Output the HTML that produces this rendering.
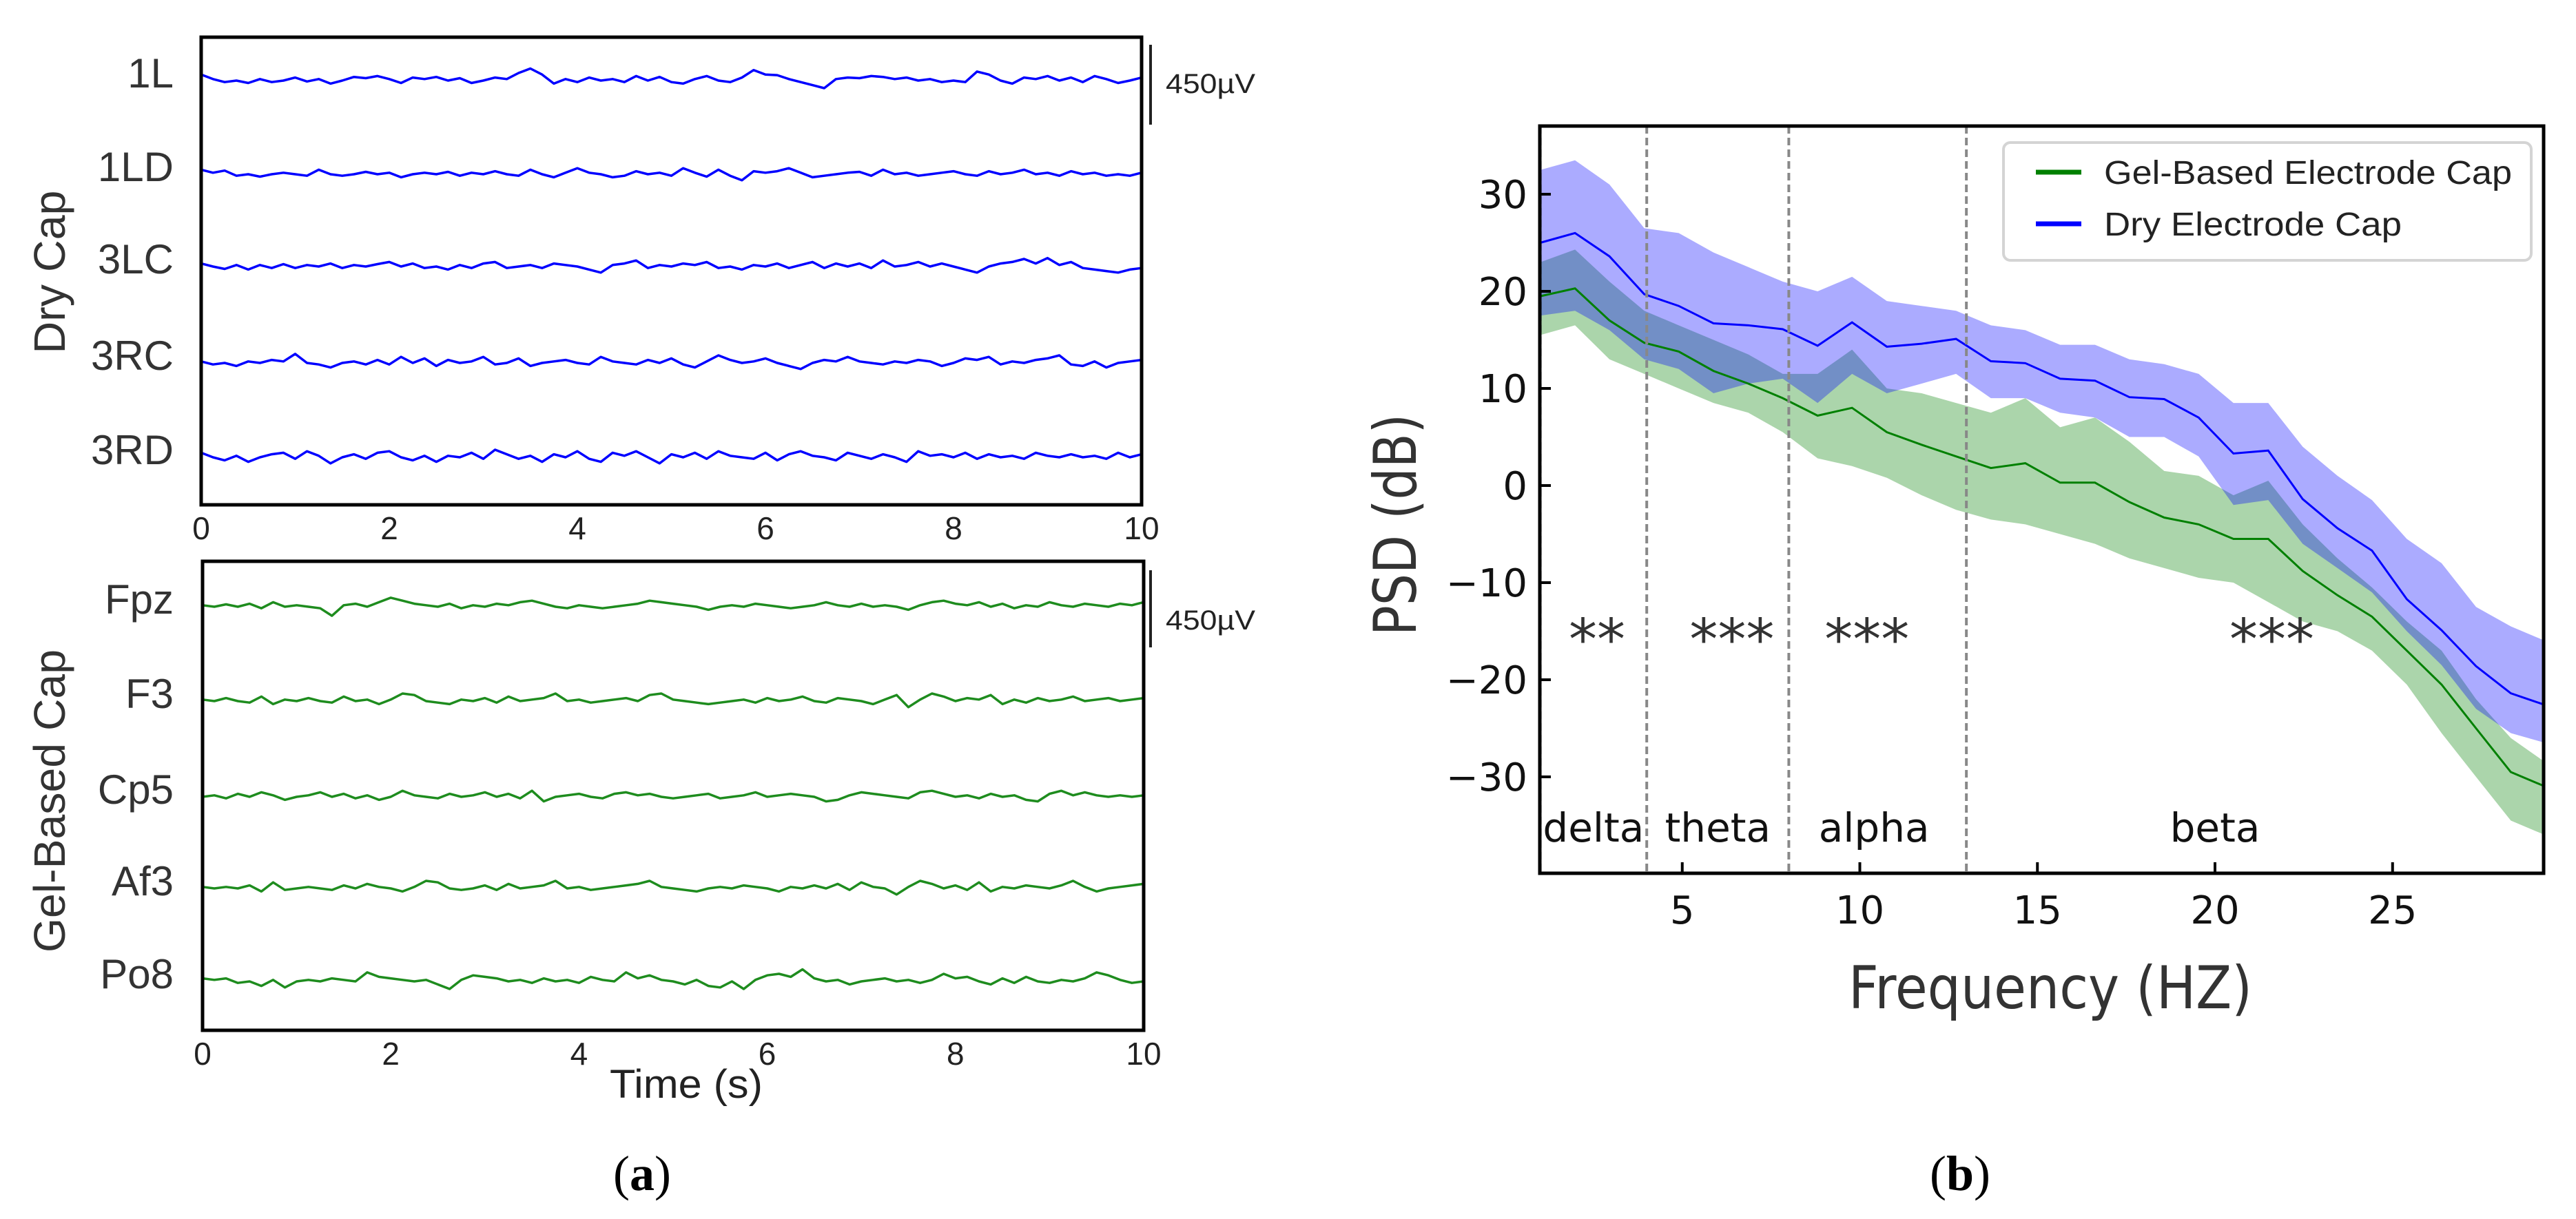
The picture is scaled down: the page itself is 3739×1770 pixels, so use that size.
<!DOCTYPE html>
<html><head><meta charset="utf-8"><style>html,body{margin:0;padding:0;background:#fff}svg{display:block}</style></head>
<body>
<svg id="fig" width="3739" height="1770" viewBox="0 0 3739 1770" xmlns="http://www.w3.org/2000/svg">
<rect width="3739" height="1770" fill="#fff"/>
<g id="left"></g>
<g id="right"></g>
</svg>
<script>
// ---------- Panel (a) EEG data (µV, sampled evenly over 0..10 s) ----------
const dryChannels = ["1L","1LD","3LC","3RC","3RD"];
const gelChannels = ["Fpz","F3","Cp5","Af3","Po8"];
const dry1L  = [20,5,-5,0,-8,5,-5,0,10,-3,5,-10,0,12,8,15,5,-8,10,5,12,0,8,-8,0,10,5,25,40,20,-10,5,-5,10,0,5,-5,15,0,12,-5,-10,5,15,0,-5,10,35,20,18,5,-5,-15,-25,5,10,8,15,12,5,10,0,5,-5,0,-5,30,20,0,-10,10,5,15,0,10,-5,15,5,-8,0,10];
const dry1LD = [15,5,12,-5,0,-8,0,5,0,-5,15,0,-5,0,8,0,5,-10,0,5,0,8,-5,5,0,10,0,-5,15,0,-10,5,20,5,0,-10,-5,10,0,5,-5,20,5,-8,15,-5,-20,10,5,10,20,5,-10,-5,0,5,8,-5,15,0,5,-5,0,5,10,0,-5,10,0,5,15,0,5,-5,10,0,5,-5,0,-5,5];
const dry3LC = [10,0,-8,5,-10,5,-5,8,-5,5,0,10,-5,5,0,8,15,0,10,-5,0,-10,5,-5,10,15,-5,0,5,-5,10,5,0,-10,-20,5,10,20,-5,5,0,10,5,15,-5,0,-10,5,0,10,-5,5,15,-5,10,0,10,-5,20,0,5,15,0,10,0,-10,-20,0,10,15,25,10,28,5,15,-5,-10,-15,-20,-10,-5];
const dry3RC = [5,-5,0,-10,5,0,10,5,30,0,-5,-15,0,5,-5,10,-5,20,0,15,-10,10,0,5,20,-5,0,15,-10,0,5,10,0,-5,20,5,0,-5,10,0,15,-5,-15,5,25,10,0,5,15,0,-10,-20,0,10,5,20,5,0,-5,5,0,10,5,-10,0,15,10,20,-5,5,0,10,15,25,-5,-10,5,-15,0,5,10];
const dry3RD = [15,0,-10,5,-15,0,10,15,-5,20,5,-20,0,10,-5,15,20,0,-10,5,-15,5,0,15,-5,25,10,-5,5,-15,10,0,20,-5,-15,15,5,20,0,-20,10,0,15,-5,20,5,0,-5,15,-10,10,20,5,0,-10,15,5,-5,10,0,-15,20,5,10,0,15,-5,10,0,5,-5,15,5,0,10,0,5,-5,15,0,10];
const gelFpz = [5,0,8,0,10,-5,15,0,5,0,-5,-30,5,10,0,15,30,20,10,5,0,10,-5,5,0,10,5,15,20,10,0,-5,5,0,-5,0,5,10,20,15,10,5,0,-10,0,5,0,10,5,0,-5,0,5,15,5,0,10,0,5,0,-10,5,15,20,10,5,15,0,10,-5,5,0,15,5,0,10,5,0,10,5,15];
const gelF3  = [5,0,10,0,-5,15,-10,5,0,10,0,-5,15,0,5,-10,5,25,20,0,-5,-10,5,0,10,-5,15,0,5,10,25,0,5,-5,0,5,10,0,20,25,5,0,-5,-10,-5,0,5,-5,10,0,5,15,0,-5,10,5,0,-10,5,20,-20,5,25,15,0,10,5,20,-10,5,-5,10,0,5,15,0,5,10,0,5,10];
const gelCp5 = [0,5,-5,10,0,15,5,-10,0,5,15,0,10,-5,5,-10,0,20,5,0,-5,10,0,5,15,0,10,-5,20,-15,0,5,10,0,-5,10,15,5,10,0,-5,0,5,10,-5,0,5,15,0,5,10,5,0,-15,-10,5,15,10,5,0,-5,15,20,10,0,5,-5,10,0,5,-10,-15,10,20,5,15,5,0,5,0,5];
const gelAf3 = [5,0,5,0,10,-10,20,-5,0,5,0,-5,10,0,15,5,0,-10,5,25,20,0,-5,0,10,-5,15,0,5,10,25,0,5,-5,0,5,10,15,25,5,0,-5,-10,0,5,0,10,5,0,-10,5,0,10,0,15,-5,20,5,0,-20,5,25,15,0,10,-5,20,-10,5,0,10,5,0,10,25,5,-10,0,5,10,15];
const gelPo8 = [10,5,10,-5,0,-15,5,-20,0,5,0,10,5,0,30,15,10,5,0,5,-10,-25,5,20,15,10,0,5,-5,10,0,5,-5,15,5,0,30,10,20,5,0,-10,5,-15,-20,0,-25,5,20,25,15,40,10,0,5,-10,0,5,10,0,5,-5,5,25,10,15,0,-10,10,-5,15,0,-5,5,0,10,30,20,5,-5,0];
const dryData = [dry1L,dry1LD,dry3LC,dry3RC,dry3RD];
const gelData = [gelFpz,gelF3,gelCp5,gelAf3,gelPo8];
const timeTicks = [0,2,4,6,8,10];

// ---------- Panel (b) PSD data ----------
const freqs = [1,1.98,2.95,3.93,4.9,5.88,6.86,7.83,8.81,9.78,10.76,11.74,12.71,13.69,14.66,15.64,16.62,17.59,18.57,19.54,20.52,21.5,22.47,23.45,24.42,25.4,26.38,27.35,28.33,29.3];
const dryMean  = [25,26,23.6,19.7,18.5,16.7,16.5,16.1,14.4,16.8,14.3,14.6,15.1,12.8,12.6,11,10.8,9.1,8.9,7,3.3,3.6,-1.4,-4.4,-6.7,-11.7,-14.9,-18.6,-21.4,-22.6];
const dryUpper = [32.5,33.5,31,26.5,26,24,22.5,21,20,21.5,19,18.5,18,16.5,16,14.5,14.5,13,12.5,11.5,8.5,8.5,4,1,-1.5,-5.5,-8,-12.5,-14.5,-16];
const dryLower = [17.5,18,16,13,12,9.5,10.5,11,8.5,11.5,9.5,10.5,11.5,9,9,7.5,7,5,5,3,-2,-1.5,-6,-8.5,-11,-15,-18.5,-23,-25.5,-26.5];
const gelMean  = [19.5,20.3,17,14.7,13.8,11.8,10.5,9,7.2,8,5.5,4.2,3,1.8,2.3,0.3,0.3,-1.7,-3.3,-4,-5.5,-5.5,-8.8,-11.3,-13.5,-17,-20.5,-25,-29.5,-31];
const gelUpper = [23,24.3,21,18,16.5,15,13.5,11.5,11.5,14,10,9.5,8.5,7.5,9,6,7,4.5,1.5,1,-1,0.5,-4,-7.5,-10.5,-14,-17,-22,-26,-28.5];
const gelLower = [15.5,16.5,13,11.5,10,8.5,7.5,5.5,2.8,2,0.8,-1,-2.5,-3.5,-4,-5,-6,-7.5,-8.5,-9.5,-10,-12,-14,-15,-17,-20.5,-25.5,-30,-34.5,-36];
const psdYTicks = [30,20,10,0,-10,-20,-30];
const psdXTicks = [5,10,15,20,25];
const bandEdges = [1,4,8,13];
const bandNames = ["delta","theta","alpha","beta"];
const bandCenters = [2.5,6,10.4,20];
const sigMarks = ["**","***","***","***"];
const sigCenters = [2.6,6.4,10.2,21.6];

const NS = "http://www.w3.org/2000/svg";
function mk(tag, attrs, parent, text){
  const e = document.createElementNS(NS, tag);
  for (const k in attrs) e.setAttribute(k, attrs[k]);
  if (text !== undefined) e.textContent = text;
  parent.appendChild(e);
  return e;
}
const L = document.getElementById('left');
const R = document.getElementById('right');
const LF = '"Liberation Sans", "DejaVu Sans", sans-serif';
const DF = '"DejaVu Sans", "Liberation Sans", sans-serif';

// ---------- draw panel (a) ----------
function eegBox(x0, x1, y0, y1, names, data, baselines, color, barY0, barY1, barTextY, boxName){
  const g = mk('g', {}, L);
  
  
  const xs = t => x0 + (x1 - x0) * t / 10;
  const pxPerUv = 1.7 * 116 / 450;
  names.forEach((nm, i) => {
    const vals = data[i];
    const n = vals.length;
    let d = '';
    vals.forEach((v, k) => {
      const t = 10 * k / (n - 1);
      d += (k ? 'L' : 'M') + xs(t).toFixed(1) + ' ' + (baselines[i] - v * pxPerUv).toFixed(1);
    });
    const p = mk('path', {d: d, fill: 'none', stroke: color, 'stroke-width': 3.5, 'stroke-linejoin': 'round'}, g);
    
    
    const lb = mk('text', {x: 252, y: baselines[i] + 10, 'text-anchor': 'end', 'font-family': LF, 'font-size': 60, fill: '#333'}, g, nm);
    
    
  });
  const box = mk('rect', {x: x0, y: y0, width: x1 - x0, height: y1 - y0, fill: 'none', stroke: '#000', 'stroke-width': 5}, g);
  
  
  timeTicks.forEach(t => {
    const tl = mk('text', {x: xs(t), y: y1 + 50, 'text-anchor': 'middle', 'font-family': LF, 'font-size': 46, fill: '#222'}, g, String(t));
    
    
  });
  const sb = mk('line', {x1: 1670, x2: 1670, y1: barY0, y2: barY1, stroke: '#222', 'stroke-width': 4}, g);
  
  
  const st = mk('text', {x: 1692, y: barTextY + 14, 'font-family': LF, 'font-size': 40, fill: '#222', textLength: 130, lengthAdjust: 'spacingAndGlyphs'}, g, '450µV');
  
  
}
eegBox(292, 1657, 54, 733, dryChannels, dryData, [117,253,387,527,664], '#0000ff', 65, 181, 121, 'dry-cap-axes');
eegBox(294, 1660, 815, 1496, gelChannels, gelData, [881,1018,1157,1290,1425], '#1e8c1e', 828, 940, 900, 'gel-cap-axes');

let t1 = mk('text', {x: 0, y: 0, transform: 'translate(94,395) rotate(-90)', 'text-anchor': 'middle', 'font-family': LF, 'font-size': 64, fill: '#333', textLength: 237, lengthAdjust: 'spacingAndGlyphs'}, L, 'Dry Cap');


let t2 = mk('text', {x: 0, y: 0, transform: 'translate(94,1163) rotate(-90)', 'text-anchor': 'middle', 'font-family': LF, 'font-size': 64, fill: '#333', textLength: 440, lengthAdjust: 'spacingAndGlyphs'}, L, 'Gel-Based Cap');


let t3 = mk('text', {x: 996, y: 1594, 'text-anchor': 'middle', 'font-family': LF, 'font-size': 58, fill: '#222', textLength: 222, lengthAdjust: 'spacingAndGlyphs'}, L, 'Time (s)');


let t4 = mk('text', {x: 932, y: 1728, 'text-anchor': 'middle', 'font-family': '"Liberation Serif", serif', 'font-size': 72, fill: '#000'}, L, '');


t4.innerHTML = '(<tspan font-weight="bold">a</tspan>)';

// ---------- draw panel (b) ----------
const AX0 = 2235, AX1 = 3692, AY0 = 183, AY1 = 1268;
const fx = f => 2184 + 51.55 * f;
const fy = v => 705 - 14.1 * v;

function bandPath(up, lo){
  let d = '';
  freqs.forEach((f, i) => { d += (i ? 'L' : 'M') + fx(f).toFixed(1) + ' ' + fy(up[i]).toFixed(1); });
  for (let i = freqs.length - 1; i >= 0; i--) d += 'L' + fx(freqs[i]).toFixed(1) + ' ' + fy(lo[i]).toFixed(1);
  return d + 'Z';
}
function linePath(v){
  let d = '';
  freqs.forEach((f, i) => { d += (i ? 'L' : 'M') + fx(f).toFixed(1) + ' ' + fy(v[i]).toFixed(1); });
  return d;
}
const clip = mk('clipPath', {id: 'axclip'}, R);
mk('rect', {x: AX0, y: AY0, width: AX1 - AX0, height: AY1 - AY0}, clip);
const plot = mk('g', {'clip-path': 'url(#axclip)'}, R);



const gb = mk('path', {d: bandPath(gelUpper, gelLower), fill: '#008000', 'fill-opacity': 0.33}, plot);


const bb = mk('path', {d: bandPath(dryUpper, dryLower), fill: '#0000ff', 'fill-opacity': 0.33}, plot);


const gl = mk('path', {d: linePath(gelMean), fill: 'none', stroke: '#008000', 'stroke-width': 3}, plot);


const bl = mk('path', {d: linePath(dryMean), fill: 'none', stroke: '#0000ff', 'stroke-width': 3}, plot);



bandEdges.forEach((f, i) => {
  const ln = mk('line', {x1: fx(f), x2: fx(f), y1: AY0, y2: AY1, stroke: i === 0 ? '#000' : '#888', 'stroke-width': 4, 'stroke-dasharray': '11 6'}, R);
  
  
});
bandNames.forEach((nm, i) => {
  const tx = mk('text', {x: fx(bandCenters[i]), y: 1222, 'text-anchor': 'middle', 'font-family': DF, 'font-size': 58, fill: '#111'}, R, nm);
  
  
});
sigMarks.forEach((s, i) => {
  const tx = mk('text', {x: fx(sigCenters[i]), y: 957, 'text-anchor': 'middle', 'font-family': DF, 'font-size': 82, fill: '#333'}, R, s);
  
  
});
const frame = mk('rect', {x: AX0, y: AY0, width: AX1 - AX0, height: AY1 - AY0, fill: 'none', stroke: '#000', 'stroke-width': 5}, R);


psdYTicks.forEach(v => {
  const tk = mk('line', {x1: AX0, x2: AX0 + 16, y1: fy(v), y2: fy(v), stroke: '#000', 'stroke-width': 4}, R);
  
  
  const lb = mk('text', {x: 2217, y: fy(v) + 20, 'text-anchor': 'end', 'font-family': DF, 'font-size': 56, fill: '#111'}, R, v < 0 ? '\u2212' + Math.abs(v) : String(v));
  
  
});
psdXTicks.forEach(f => {
  const tk = mk('line', {x1: fx(f), x2: fx(f), y1: AY1, y2: AY1 - 16, stroke: '#000', 'stroke-width': 4}, R);
  
  
  const lb = mk('text', {x: fx(f), y: 1341, 'text-anchor': 'middle', 'font-family': DF, 'font-size': 56, fill: '#111'}, R, String(f));
  
  
});
const yt = mk('text', {x: 0, y: 0, transform: 'translate(2055,762) rotate(-90)', 'text-anchor': 'middle', 'font-family': DF, 'font-size': 86, fill: '#333', textLength: 322, lengthAdjust: 'spacingAndGlyphs'}, R, 'PSD (dB)');


const xt = mk('text', {x: 2976, y: 1464, 'text-anchor': 'middle', 'font-family': DF, 'font-size': 86, fill: '#333', textLength: 586, lengthAdjust: 'spacingAndGlyphs'}, R, 'Frequency (HZ)');



const lg = mk('g', {}, R);


mk('rect', {x: 2908, y: 207, width: 766, height: 171, rx: 10, fill: '#fff', stroke: '#d4d4d4', 'stroke-width': 4}, lg);
const l1 = mk('line', {x1: 2955, x2: 3021, y1: 250, y2: 250, stroke: '#008000', 'stroke-width': 7}, lg);


const e1 = mk('text', {x: 3054, y: 267, 'font-family': LF, 'font-size': 48, fill: '#222', textLength: 592, lengthAdjust: 'spacingAndGlyphs'}, lg, 'Gel-Based Electrode Cap');


const l2 = mk('line', {x1: 2955, x2: 3021, y1: 325, y2: 325, stroke: '#0000ff', 'stroke-width': 7}, lg);


const e2 = mk('text', {x: 3054, y: 342, 'font-family': LF, 'font-size': 48, fill: '#222', textLength: 432, lengthAdjust: 'spacingAndGlyphs'}, lg, 'Dry Electrode Cap');



const pb = mk('text', {x: 2845, y: 1728, 'text-anchor': 'middle', 'font-family': '"Liberation Serif", serif', 'font-size': 72, fill: '#000'}, R, '');


pb.innerHTML = '(<tspan font-weight="bold">b</tspan>)';
</script>
</body></html>
